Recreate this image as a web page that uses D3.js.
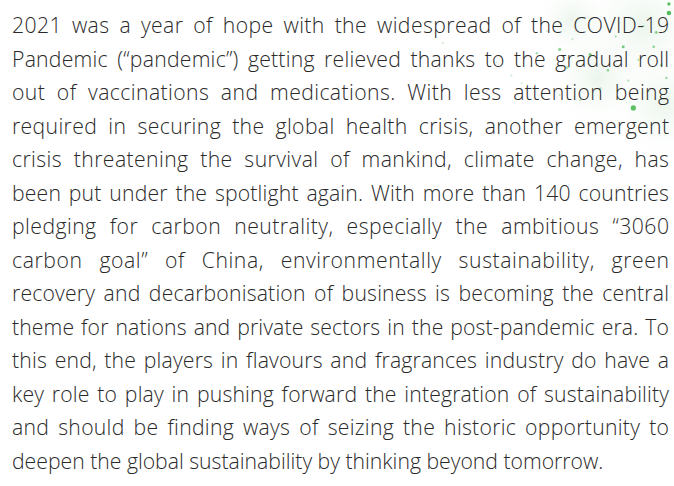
<!DOCTYPE html>
<html>
<head>
<meta charset="utf-8">
<script src="https://cdn.jsdelivr.net/npm/d3@7"></script>
<style>
  html, body { margin: 0; padding: 0; background: #ffffff; }
  svg { display: block; }
</style>
</head>
<body>
<svg id="chart" width="674" height="486"></svg>
<script>
// ---- content ----
const lines = [
  "2021 was a year of hope with the widespread of the COVID-19",
  "Pandemic (\u201cpandemic\u201d) getting relieved thanks to the gradual roll",
  "out of vaccinations and medications. With less attention being",
  "required in securing the global health crisis, another emergent",
  "crisis threatening the survival of mankind, climate change, has",
  "been put under the spotlight again. With more than 140 countries",
  "pledging for carbon neutrality, especially the ambitious \u201c3060",
  "carbon goal\u201d of China, environmentally sustainability, green",
  "recovery and decarbonisation of business is becoming the central",
  "theme for nations and private sectors in the post-pandemic era. To",
  "this end, the players in flavours and fragrances industry do have a",
  "key role to play in pushing forward the integration of sustainability",
  "and should be finding ways of seizing the historic opportunity to",
  "deepen the global sustainability by thinking beyond tomorrow."
];
const lineIndex = lines.map((d, i) => i);

// decorative sparkle dots (x, y in a 0-100 grid of the decoration area, r, opacity)
const sparkleX = [98, 98, 93, 92, 84, 80, 67, 74, 55, 58, 46, 63, 36, 9, 82, 55, 71, 95, 88, 77, 60, 50, 40, 30, 20, 90, 86, 97];
const sparkleY = [3, 10, 25, 36, 83, 36, 42, 54, 38, 52, 41, 77, 58, 33, 62, 73, 68, 50, 20, 28, 30, 24, 64, 48, 70, 70, 46, 60];
const sparkleR = [1.6, 2.2, 1.4, 1.3, 2.6, 1.5, 1.6, 1.3, 1.7, 1.4, 1.3, 1.2, 1.0, 1.0, 1.1, 1.0, 1.2, 1.2, 1.0, 1.1, 1.0, 0.9, 1.0, 0.9, 0.9, 1.0, 1.1, 1.2];
const sparkleA = [0.9, 0.9, 0.6, 0.6, 0.85, 0.7, 0.7, 0.6, 0.55, 0.5, 0.45, 0.35, 0.3, 0.3, 0.4, 0.3, 0.4, 0.5, 0.35, 0.4, 0.3, 0.3, 0.25, 0.25, 0.2, 0.4, 0.45, 0.5];

// ---- layout ----
const W = 674, H = 486;
const svg = d3.select("#chart");

const defs = svg.append("defs");
const grad = defs.append("radialGradient").attr("id", "glow");
grad.append("stop").attr("offset", "0%").attr("stop-color", "#e3f1e4").attr("stop-opacity", 0.7);
grad.append("stop").attr("offset", "100%").attr("stop-color", "#ffffff").attr("stop-opacity", 0);

// soft background glows
const glowX = [88, 70, 96, 60];
const glowY = [20, 60, 80, 15];
const glowR = [70, 55, 60, 40];
const gx = d3.scaleLinear().domain([0, 100]).range([420, 674]);
const gy = d3.scaleLinear().domain([0, 100]).range([0, 130]);
svg.append("g").selectAll("circle").data(glowX.map((x, i) => ({x, y: glowY[i], r: glowR[i]})))
  .join("circle")
  .attr("cx", d => gx(d.x)).attr("cy", d => gy(d.y)).attr("r", d => d.r)
  .attr("fill", "url(#glow)");

svg.append("g").selectAll("circle")
  .data(sparkleX.map((x, i) => ({x, y: sparkleY[i], r: sparkleR[i], a: sparkleA[i]})))
  .join("circle")
  .attr("cx", d => gx(d.x)).attr("cy", d => gy(d.y)).attr("r", d => d.r)
  .attr("fill", "#3fb54a").attr("fill-opacity", d => d.a);

// text lines
const left = 12, right = 669;
const y = d3.scaleLinear().domain([0, lines.length - 1]).range([33, 469]);

const txt = svg.append("g")
  .attr("font-family", "'Open Sans', 'Noto Sans', sans-serif")
  .attr("font-size", 21.2)
  .attr("font-weight", 300)
  .attr("fill", "#2a2a2a");

txt.selectAll("text").data(lineIndex).join("text")
  .attr("x", left)
  .attr("y", i => y(i))
  .text(i => lines[i])
  .each(function(i) {
    if (i === lines.length - 1) return;
    const el = d3.select(this);
    const target = right - left;
    const natural = this.getComputedTextLength();
    const gaps = (lines[i].match(/ /g) || []).length;
    const chars = lines[i].length - 1;
    const extra = target - natural;
    if (extra > 0 && gaps > 0) {
      const ls = Math.min(0.6, (extra * 0.35) / chars);
      const ws = (extra - ls * chars) / gaps;
      el.attr("letter-spacing", ls).attr("word-spacing", ws);
    } else {
      el.attr("textLength", target).attr("lengthAdjust", "spacingAndGlyphs");
    }
  });
</script>
</body>
</html>
